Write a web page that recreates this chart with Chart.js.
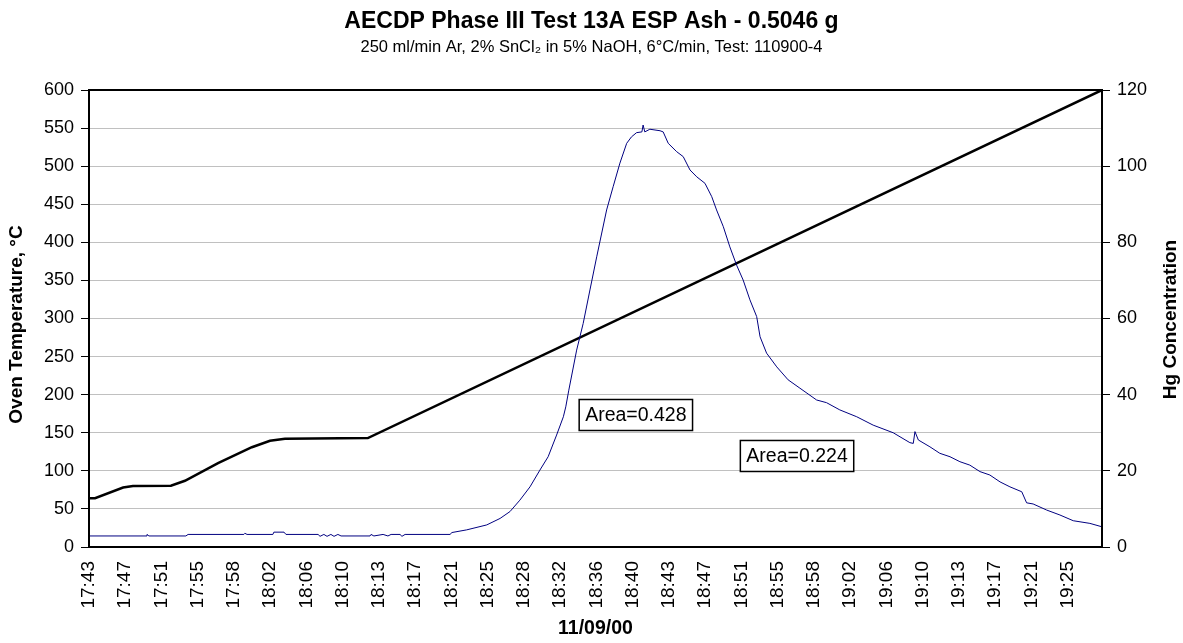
<!DOCTYPE html>
<html><head><meta charset="utf-8">
<script src="https://cdn.jsdelivr.net/npm/chart.js@4.4.0/dist/chart.umd.min.js"></script>
<style>html,body{margin:0;padding:0;background:#fff}#wrap{width:1183px;height:643px;position:relative}</style>
</head><body><div id="wrap"><canvas id="c"></canvas></div>
<script>
// ---- data ----
const tickLabels = ['17:43','17:47','17:51','17:55','17:58','18:02','18:06','18:10','18:13','18:17','18:21','18:25','18:28','18:32','18:36','18:40','18:43','18:47','18:51','18:55','18:58','19:02','19:06','19:10','19:13','19:17','19:21','19:25'];
const samplesPerLabel = 15;
const lastSample = 419.2;

const tempSample = [0, 2.5, 14.1, 18.2, 33.9, 39.7, 53.4, 67.4, 74.9, 81.1, 115.4, 419.2];
const tempValue  = [64, 64, 78, 80, 80.5, 87, 110, 131, 139.5, 142, 143, 600];

const hgSample = [0, 23.6, 24, 24.8, 40.1, 41, 64.1, 64.5, 65.4, 76.1, 76.5, 80.7, 81.5, 94.8, 95.6, 97.2, 98.5, 100.1, 101.4, 103, 104.3, 116.3, 116.7, 117.9, 121.7, 123.7, 125, 128.7, 129.5, 130.8, 149.4,
  150.2, 156.3, 164.6, 170.1, 174.2, 178.3, 182.5, 186.6, 190, 193.5, 196.3, 197.3, 198.5, 201.8, 204.5, 207.3, 210.1, 214.2, 216.9, 219.7, 222.5, 224.5, 226.6, 228.8, 229.3, 230, 232.1, 236.3, 237.6,
  239.7, 243.2, 245.9, 248.7, 251.5, 254.9, 257.7, 259.7, 262.5, 265.2, 268, 270.7, 273.5, 276.3, 277.7, 280.4, 284.6, 289.3, 294.2, 301.1, 305.2, 310.7, 317.7, 324.5, 332.8, 339.7, 341.1, 341.8, 343.2,
  348, 352.1, 356.3, 360.4, 364.5, 368.7, 372.8, 377, 381.1, 386, 388, 390.7, 396.3, 401.8, 407.3, 414.2, 419.2];
const hgValue = [2.9, 2.9, 3.3, 2.9, 2.9, 3.3, 3.3, 3.6, 3.3, 3.3, 3.9, 3.9, 3.3, 3.3, 2.8, 3.3, 2.8, 3.3, 2.8, 3.3, 2.9, 2.9, 3.3, 2.9, 3.3, 2.9, 3.3, 3.3, 2.8, 3.3, 3.3,
  3.8, 4.5, 5.8, 7.5, 9.3, 12.3, 15.8, 20.2, 23.7, 29.4, 34.2, 36.8, 41, 51.7, 58.7, 67.5, 76.2, 88.5, 94.6, 100.8, 106, 107.7, 108.8, 109, 110.8, 109, 109.7, 109.3, 109,
  106, 103.8, 102.5, 99, 97.2, 95.5, 92, 88.5, 84.1, 78.8, 74, 70.1, 64.9, 60.5, 55.2, 50.9, 47.3, 43.9, 41.7, 38.6, 37.9, 36, 34.2, 32, 30, 27.4, 27.2, 30.3, 28.1,
  26.3, 24.6, 23.7, 22.4, 21.5, 19.8, 18.9, 17.1, 15.8, 14.5, 11.6, 11.3, 9.7, 8.4, 6.9, 6.2, 5.3];

const noteText   = ['Area=0.428', 'Area=0.224'];
const noteSample = [226.3, 293];
const noteTemp   = [173.3, 119.5];

const leftTitle  = 'Oven Temperature, °C';
const rightTitle = 'Hg Concentration';

// ---- styling ----
const FONT = 'Arial, "Liberation Sans", Helvetica, sans-serif';

const framePlugin = {
  id: 'frame',
  afterDatasetsDraw(chart) {
    const {ctx, chartArea: a, scales} = chart;
    ctx.save();
    ctx.strokeStyle = '#000';
    ctx.lineWidth = 2;
    ctx.strokeRect(a.left, a.top, a.right - a.left, a.bottom - a.top);
    // notes
    ctx.font = '19.5px ' + FONT;
    ctx.textAlign = 'center';
    ctx.textBaseline = 'middle';
    noteText.forEach((t, i) => {
      const cx = scales.x.getPixelForValue(noteSample[i]);
      const cy = scales.y.getPixelForValue(noteTemp[i]);
      const w = ctx.measureText(t).width + 12;
      const h = 31;
      ctx.fillStyle = '#fff';
      ctx.fillRect(cx - w / 2, cy - h / 2, w, h);
      ctx.lineWidth = 1.5;
      ctx.strokeRect(cx - w / 2, cy - h / 2, w, h);
      ctx.fillStyle = '#000';
      ctx.fillText(t, cx, cy + 1);
    });
    // axis titles (both read bottom-to-top)
    ctx.font = 'bold 19px ' + FONT;
    const midY = (a.top + a.bottom) / 2;
    [[17, midY + 6, leftTitle], [chart.width - 12, midY + 1, rightTitle]].forEach(([x, y, t]) => {
      ctx.save();
      ctx.translate(x, y);
      ctx.rotate(-Math.PI / 2);
      ctx.fillText(t, 0, 0);
      ctx.restore();
    });
    ctx.restore();
  }
};

const toXY = (xs, ys) => xs.map((x, i) => ({x, y: ys[i]}));

new Chart(document.getElementById('c'), {
  type: 'line',
  data: {
    datasets: [
      { label: 'Hg Concentration', data: toXY(hgSample, hgValue), yAxisID: 'y1', borderColor: '#000080', borderWidth: 1, pointRadius: 0, tension: 0, order: 0 },
      { label: 'Oven Temperature', data: toXY(tempSample, tempValue), yAxisID: 'y', borderColor: '#000', borderWidth: 2.5, pointRadius: 0, tension: 0, order: 1 }
    ]
  },
  options: {
    responsive: true,
    maintainAspectRatio: false,
    animation: false,
    devicePixelRatio: 1,
    layout: { padding: 0 },
    plugins: {
      legend: { display: false },
      tooltip: { enabled: false },
      title: { display: true, text: 'AECDP Phase III Test 13A ESP Ash - 0.5046 g', color: '#000',
        font: { family: FONT, size: 23, weight: 'bold' }, padding: { top: 8, bottom: 0 } },
      subtitle: { display: true, text: '250 ml/min Ar, 2% SnCl\u2082 in 5% NaOH, 6°C/min, Test: 110900-4', color: '#000',
        font: { family: FONT, size: 16.5 }, padding: { top: 2, bottom: 32.6 } }
    },
    scales: {
      x: {
        type: 'linear', min: 0, max: lastSample,
        afterBuildTicks: s => { s.ticks = tickLabels.map((_, i) => ({ value: i * samplesPerLabel })); },
        afterFit: s => { s.height = 96; },
        ticks: { autoSkip: false, maxRotation: 90, minRotation: 90, color: '#000', padding: 6,
          font: { family: FONT, size: 19 }, callback: v => tickLabels[Math.round(v / samplesPerLabel)] },
        grid: { display: false },
        border: { display: true, color: '#000', width: 2 },
        title: { display: true, text: '11/09/00', color: '#000', font: { family: FONT, size: 19.5, weight: 'bold' }, padding: { top: 0, bottom: 3 } }
      },
      y: {
        position: 'left', min: 0, max: 600,
        afterFit: s => { s.width = 89; },
        ticks: { stepSize: 50, color: '#000', padding: 7, font: { family: FONT, size: 18 } },
        grid: { color: '#c0c0c0', lineWidth: 1, tickColor: '#000', tickLength: 8 },
        border: { color: '#000', width: 2 }
      },
      y1: {
        position: 'right', min: 0, max: 120,
        afterFit: s => { s.width = 81; },
        ticks: { stepSize: 20, color: '#000', padding: 7, font: { family: FONT, size: 18 } },
        grid: { drawOnChartArea: false, tickColor: '#000', tickLength: 8 },
        border: { color: '#000', width: 2 }
      }
    }
  },
  plugins: [framePlugin]
});
</script>
</body></html>
